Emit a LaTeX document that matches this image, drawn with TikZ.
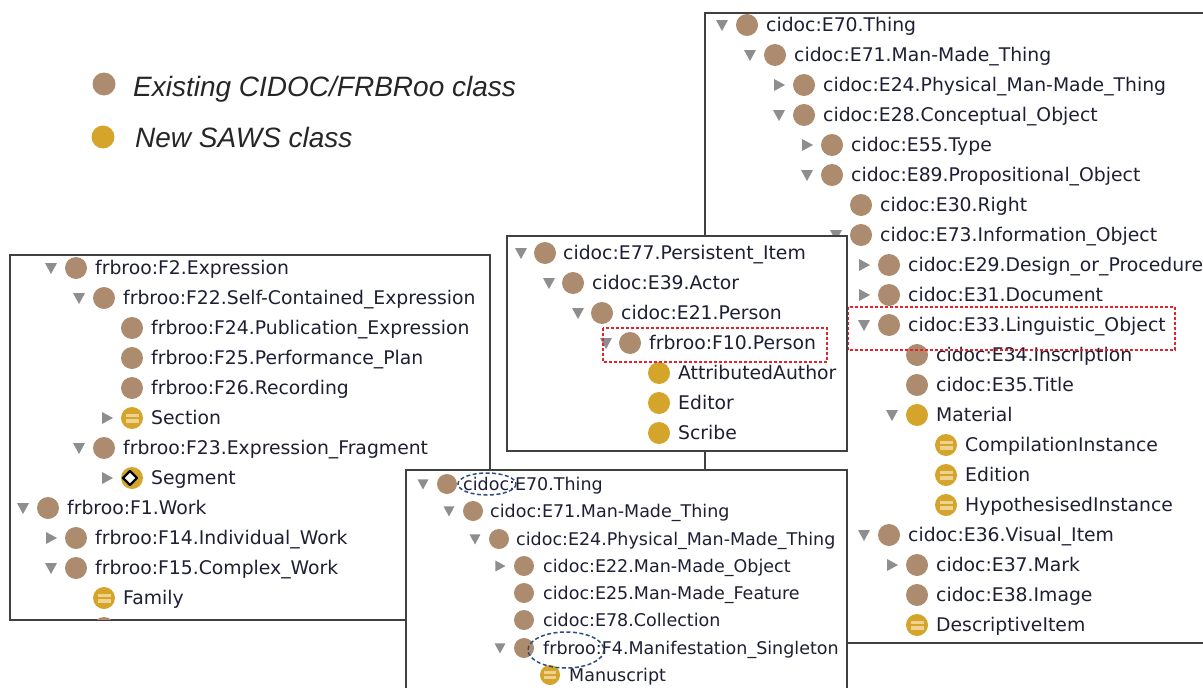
\documentclass[tikz,border=0pt]{standalone}
\usepackage{fontspec}
\newfontfamily\treefont{DejaVu Sans}
\newfontfamily\keyfont{Liberation Sans}

\definecolor{classbrown}{HTML}{AC8B6E}
\definecolor{sawsgold}{HTML}{D4A52A}
\definecolor{palegold}{HTML}{EDD38F}
\definecolor{arrowgrey}{HTML}{8E8E8E}
\definecolor{ink}{HTML}{1E1F33}
\definecolor{framegrey}{HTML}{404040}
\definecolor{markred}{HTML}{E8202A}
\definecolor{markblue}{HTML}{2E4E78}

\tikzset{
  lbl/.style={anchor=west, inner sep=0pt, text=ink, text height=16pt, text depth=3pt,
    font=\treefont\fontsize{18.8}{22}\selectfont},
  lblsm/.style={lbl, text height=15pt, font=\treefont\fontsize{17.5}{20}\selectfont},
  keytext/.style={anchor=base west, inner sep=0pt, text=black!85,
    font=\keyfont\itshape\fontsize{28}{32}\selectfont},
  frame/.style={draw=framegrey, line width=1.8pt, fill=white},
  redmark/.style={draw=markred, line width=1.2pt, dash pattern=on 3pt off 2pt},
  bluemark/.style={draw=markblue, line width=1.5pt, dash pattern=on 4pt off 2.5pt},
  tridown/.pic={\fill[arrowgrey] (-6,-5) -- (6,-5) -- (0,6) -- cycle;},
  triright/.pic={\fill[arrowgrey] (-5,-6) -- (6,0) -- (-5,6) -- cycle;},
  equiv/.pic={\fill[sawsgold] (0,0) circle (11);
    \fill[palegold] (-6.5,-4.5) rectangle (6.5,-1);
    \fill[palegold] (-6.5,1) rectangle (6.5,4.5);},
  segm/.pic={\fill[sawsgold] (0,0) circle (11);
    \draw[black, line width=2.4pt, fill=white, line join=round] (-9,0) -- (-2,-7) -- (5,0) -- (-2,7) -- cycle;},
}

\begin{document}
\begin{tikzpicture}[x=1pt,y=-1pt]

	\useasboundingbox (0,0) rectangle (1203,688);
	\clip (0,0) rectangle (1203,688);

	% key
	\fill[classbrown] (104,84) circle (11.5);
	\node[keytext] (keyold) at (133,96) {Existing CIDOC/FRBRoo class};
	\fill[sawsgold] (103,137) circle (11.5);
	\node[keytext] (keynew) at (135,147) {New SAWS class};

	% E70 tree, right
	\draw[frame] (705,13) rectangle (1215,643);
	\pic at (722,25) {tridown};
	\fill[classbrown] (747,25) circle (11);
	\node[lbl] (tr70) at (766,25) {cidoc:E70.Thing};
	\pic at (750,55) {tridown};
	\fill[classbrown] (775,55) circle (11);
	\node[lbl] (tr71) at (794,55) {cidoc:E71.Man-Made\_Thing};
	\pic at (779,85) {triright};
	\fill[classbrown] (804,85) circle (11);
	\node[lbl] (tr24) at (823,85) {cidoc:E24.Physical\_Man-Made\_Thing};
	\pic at (779,115) {tridown};
	\fill[classbrown] (804,115) circle (11);
	\node[lbl] (tr28) at (823,115) {cidoc:E28.Conceptual\_Object};
	\pic at (807,145) {triright};
	\fill[classbrown] (832,145) circle (11);
	\node[lbl] (tr55) at (851,145) {cidoc:E55.Type};
	\pic at (807,175) {tridown};
	\fill[classbrown] (832,175) circle (11);
	\node[lbl] (tr89) at (851,175) {cidoc:E89.Propositional\_Object};
	\fill[classbrown] (861,205) circle (11);
	\node[lbl] (tr30) at (880,205) {cidoc:E30.Right};
	\pic at (836,235) {tridown};
	\fill[classbrown] (861,235) circle (11);
	\node[lbl] (tr73) at (880,235) {cidoc:E73.Information\_Object};
	\pic at (864,265) {triright};
	\fill[classbrown] (889,265) circle (11);
	\node[lbl] (tr29) at (908,265) {cidoc:E29.Design\_or\_Procedure};
	\pic at (864,295) {triright};
	\fill[classbrown] (889,295) circle (11);
	\node[lbl] (tr31) at (908,295) {cidoc:E31.Document};
	\pic at (864,325) {tridown};
	\fill[classbrown] (889,325) circle (11);
	\node[lbl] (tr33) at (908,325) {cidoc:E33.Linguistic\_Object};
	\fill[classbrown] (917,355) circle (11);
	\node[lbl] (tr34) at (936,355) {cidoc:E34.Inscription};
	\fill[classbrown] (917,385) circle (11);
	\node[lbl] (tr35) at (936,385) {cidoc:E35.Title};
	\pic at (892,415) {tridown};
	\fill[sawsgold] (917,415) circle (11);
	\node[lbl] (trmat) at (936,415) {Material};
	\pic at (946,445) {equiv};
	\node[lbl] (trcomp) at (965,445) {CompilationInstance};
	\pic at (946,475) {equiv};
	\node[lbl] (tredit) at (965,475) {Edition};
	\pic at (946,505) {equiv};
	\node[lbl] (trhyp) at (965,505) {HypothesisedInstance};
	\pic at (864,535) {tridown};
	\fill[classbrown] (889,535) circle (11);
	\node[lbl] (tr36) at (908,535) {cidoc:E36.Visual\_Item};
	\pic at (892,565) {triright};
	\fill[classbrown] (917,565) circle (11);
	\node[lbl] (tr37) at (936,565) {cidoc:E37.Mark};
	\fill[classbrown] (917,595) circle (11);
	\node[lbl] (tr38) at (936,595) {cidoc:E38.Image};
	\pic at (917,625) {equiv};
	\node[lbl] (trdesc) at (936,625) {DescriptiveItem};
	\draw[redmark] (848,307) rectangle (1175,350);

	% F2 / F1 tree, left
	\draw[frame] (10,255) rectangle (490,620);
	\begin{scope}
	\clip (11,256) rectangle (489,619);
	\pic at (51,268) {tridown};
	\fill[classbrown] (76,268) circle (11);
	\node[lbl] (lf2) at (95,268) {frbroo:F2.Expression};
	\pic at (79,298) {tridown};
	\fill[classbrown] (104,298) circle (11);
	\node[lbl] (lf22) at (123,298) {frbroo:F22.Self-Contained\_Expression};
	\fill[classbrown] (132,328) circle (11);
	\node[lbl] (lf24) at (151,328) {frbroo:F24.Publication\_Expression};
	\fill[classbrown] (132,358) circle (11);
	\node[lbl] (lf25) at (151,358) {frbroo:F25.Performance\_Plan};
	\fill[classbrown] (132,388) circle (11);
	\node[lbl] (lf26) at (151,388) {frbroo:F26.Recording};
	\pic at (107,418) {triright};
	\pic at (132,418) {equiv};
	\node[lbl] (lsect) at (151,418) {Section};
	\pic at (79,448) {tridown};
	\fill[classbrown] (104,448) circle (11);
	\node[lbl] (lf23) at (123,448) {frbroo:F23.Expression\_Fragment};
	\pic at (107,478) {triright};
	\pic at (132,478) {segm};
	\node[lbl] (lseg) at (151,478) {Segment};
	\pic at (23,508) {tridown};
	\fill[classbrown] (48,508) circle (11);
	\node[lbl] (lf1) at (67,508) {frbroo:F1.Work};
	\pic at (51,538) {triright};
	\fill[classbrown] (76,538) circle (11);
	\node[lbl] (lf14) at (95,538) {frbroo:F14.Individual\_Work};
	\pic at (51,568) {tridown};
	\fill[classbrown] (76,568) circle (11);
	\node[lbl] (lf15) at (95,568) {frbroo:F15.Complex\_Work};
	\pic at (104,598) {equiv};
	\node[lbl] (lfam) at (123,598) {Family};
	\fill[classbrown] (104,628) circle (11);
	\end{scope}

	% E77 tree, middle
	\draw[frame] (507,236) rectangle (847,451);
	\pic at (521,253) {tridown};
	\fill[classbrown] (545,253) circle (11);
	\node[lbl] (m77) at (563,253) {cidoc:E77.Persistent\_Item};
	\pic at (549,283) {tridown};
	\fill[classbrown] (573,283) circle (11);
	\node[lbl] (m39) at (592,283) {cidoc:E39.Actor};
	\pic at (578,313) {tridown};
	\fill[classbrown] (602,313) circle (11);
	\node[lbl] (m21) at (621,313) {cidoc:E21.Person};
	\pic at (606,343) {tridown};
	\fill[classbrown] (630,343) circle (11);
	\node[lbl] (mf10) at (649,343) {frbroo:F10.Person};
	\fill[sawsgold] (659,373) circle (11);
	\node[lbl] (mauth) at (678,373) {AttributedAuthor};
	\fill[sawsgold] (659,403) circle (11);
	\node[lbl] (medit) at (678,403) {Editor};
	\fill[sawsgold] (659,433) circle (11);
	\node[lbl] (mscr) at (678,433) {Scribe};
	\draw[redmark] (603,328) rectangle (827,362);

	% E70 tree, bottom
	\draw[frame] (406,470) rectangle (847,700);
	\pic[scale=.91] at (423,484) {tridown};
	\fill[classbrown] (447,484) circle (10);
	\node[lblsm] (b70) at (463,484) {cidoc:E70.Thing};
	\pic[scale=.91] at (449,511) {tridown};
	\fill[classbrown] (473,511) circle (10);
	\node[lblsm] (b71) at (490,511) {cidoc:E71.Man-Made\_Thing};
	\pic[scale=.91] at (475,539) {tridown};
	\fill[classbrown] (499,539) circle (10);
	\node[lblsm] (b24) at (516,539) {cidoc:E24.Physical\_Man-Made\_Thing};
	\pic[scale=.91] at (500,566) {triright};
	\fill[classbrown] (524,566) circle (10);
	\node[lblsm] (b22) at (543,566) {cidoc:E22.Man-Made\_Object};
	\fill[classbrown] (524,593) circle (10);
	\node[lblsm] (b25) at (543,593) {cidoc:E25.Man-Made\_Feature};
	\fill[classbrown] (524,620) circle (10);
	\node[lblsm] (b78) at (543,620) {cidoc:E78.Collection};
	\pic[scale=.91] at (500,648) {tridown};
	\fill[classbrown] (524,648) circle (10);
	\node[lblsm] (bf4) at (543,648) {frbroo:F4.Manifestation\_Singleton};
	\pic[scale=.91] at (550,675) {equiv};
	\node[lblsm] (bman) at (569,675) {Manuscript};
	\draw[bluemark] (487,484) ellipse [x radius=29, y radius=11];
	\draw[bluemark] (566,650) ellipse [x radius=38, y radius=18];
\end{tikzpicture}
\end{document}
